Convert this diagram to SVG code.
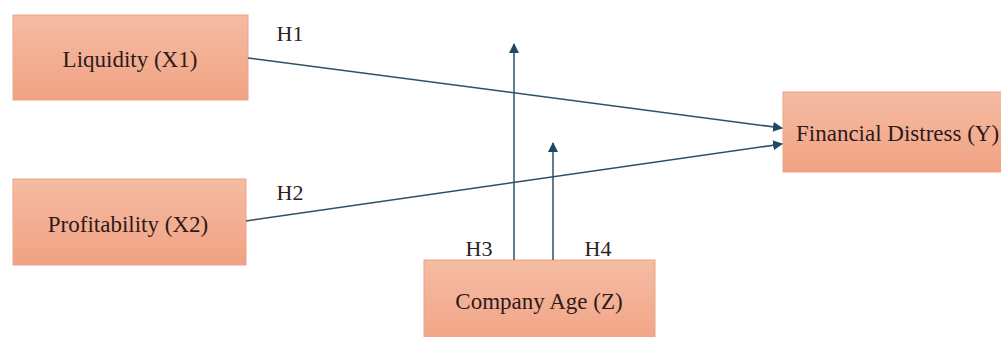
<svg xmlns="http://www.w3.org/2000/svg" width="1001" height="337" viewBox="0 0 1001 337">
<style>
.box{fill:url(#g);stroke:#e8a587;stroke-width:1}
.t{font-family:"Liberation Serif","Times New Roman",serif;font-size:23px;fill:#2e1a1a}
.h{font-family:"Liberation Serif","Times New Roman",serif;font-size:22px;fill:#2a2222}
.c{stroke:#2f4f66;stroke-width:1.5;fill:none}
</style>
<defs>
<linearGradient id="g" x1="0" y1="0" x2="0" y2="1">
<stop offset="0" stop-color="#f5bca3"/>
<stop offset="1" stop-color="#f1a283"/>
</linearGradient>
<marker id="a" viewBox="0 0 10 10" refX="9" refY="5" markerWidth="10" markerHeight="10" markerUnits="userSpaceOnUse" orient="auto">
<path d="M0,0 L10,5 L0,10 Z" fill="#1f4a66"/>
</marker>
</defs>
<rect width="1001" height="337" fill="#ffffff"/>
<g id="liquidity"><rect class="box" x="13" y="15" width="235" height="85"/><text class="t" x="130" y="67" text-anchor="middle">Liquidity (X1)</text></g>
<g id="profitability"><rect class="box" x="13" y="179" width="233" height="86"/><text class="t" x="128" y="232" text-anchor="middle">Profitability (X2)</text></g>
<g id="companyage"><rect class="box" x="424" y="260" width="231" height="90"/><text class="t" x="539" y="309" text-anchor="middle">Company Age (Z)</text></g>
<g id="distress"><rect class="box" x="783" y="92" width="230" height="80"/><text class="t" x="796" y="141">Financial Distress (Y)</text></g>
<g id="connectors">
<line class="c" x1="248" y1="58" x2="782" y2="128" marker-end="url(#a)"/>
<line class="c" x1="246" y1="221" x2="782" y2="144" marker-end="url(#a)"/>
<line class="c" x1="514" y1="260" x2="514" y2="44" marker-end="url(#a)"/>
<line class="c" x1="553" y1="260" x2="553" y2="143" marker-end="url(#a)"/>
</g>
<g id="labels">
<text class="h" x="290" y="41" text-anchor="middle">H1</text>
<text class="h" x="290" y="200" text-anchor="middle">H2</text>
<text class="h" x="479" y="256" text-anchor="middle">H3</text>
<text class="h" x="598" y="256" text-anchor="middle">H4</text>
</g>
</svg>
